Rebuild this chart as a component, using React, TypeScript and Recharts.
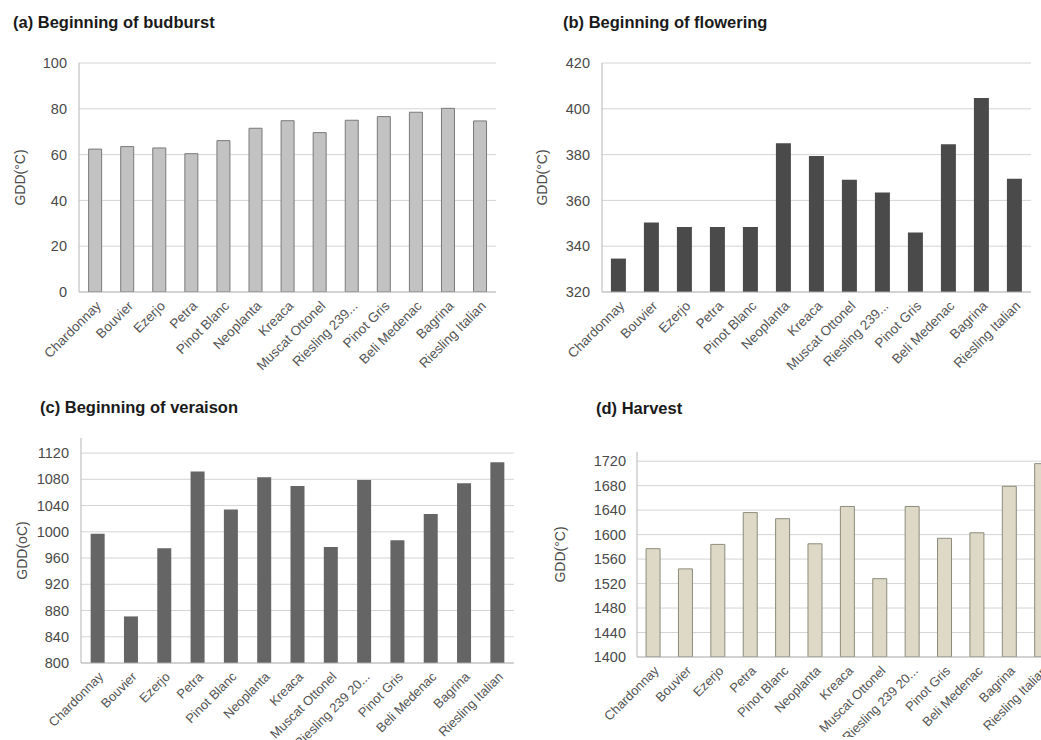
import React from "react";
import { BarChart, Bar, XAxis, YAxis, CartesianGrid } from "recharts";

const cultivarsShort = [
  "Chardonnay", "Bouvier", "Ezerjo", "Petra", "Pinot Blanc", "Neoplanta", "Kreaca",
  "Muscat Ottonel", "Riesling 239...", "Pinot Gris", "Beli Medenac", "Bagrina", "Riesling Italian",
];
const cultivarsLong = [
  "Chardonnay", "Bouvier", "Ezerjo", "Petra", "Pinot Blanc", "Neoplanta", "Kreaca",
  "Muscat Ottonel", "Riesling 239 20...", "Pinot Gris", "Beli Medenac", "Bagrina", "Riesling Italian",
];

const budburst = [62.4, 63.5, 62.9, 60.4, 66.1, 71.5, 74.8, 69.6, 75, 76.6, 78.5, 80.2, 74.7];
const flowering = [334.6, 350.4, 348.4, 348.4, 348.4, 385, 379.4, 369, 363.5, 346, 384.5, 404.7, 369.5];
const veraison = [997, 871, 975, 1092, 1034, 1083, 1070, 977, 1079, 987, 1027, 1074, 1106];
const harvest = [1577, 1544, 1584, 1636, 1626, 1585, 1646, 1528, 1646, 1594, 1603, 1679, 1716];

const ticksA = [0, 20, 40, 60, 80, 100];
const ticksB = [320, 340, 360, 380, 400, 420];
const ticksC = [800, 840, 880, 920, 960, 1000, 1040, 1080, 1120];
const ticksD = [1400, 1440, 1480, 1520, 1560, 1600, 1640, 1680, 1720];

const FONT = "'Liberation Sans', Arial, sans-serif";

const toRows = (names: string[], vals: number[]) =>
  names.map((name, i) => ({ name, value: vals[i] }));

type PanelProps = {
  title: string;
  titleLeft: number;
  titleTop: number;
  left: number;
  top: number;
  width: number;
  height: number;
  margin: { top: number; right: number; bottom: number; left: number };
  yWidth: number;
  yTickMargin: number;
  labelOffset: number;
  yLabel: string;
  domain: [number, number];
  ticks: number[];
  data: { name: string; value: number }[];
  fill: string;
  stroke?: string;
  gap: string;
  xFont: number;
};

function Panel(p: PanelProps) {
  return (
    <>
      <div
        style={{
          position: "absolute", left: p.titleLeft, top: p.titleTop,
          fontFamily: FONT, fontWeight: "bold", fontSize: 16.5, color: "#1a1a1a",
          whiteSpace: "nowrap", lineHeight: "19px",
        }}
      >
        {p.title}
      </div>
      <div style={{ position: "absolute", left: p.left, top: p.top }}>
        <BarChart width={p.width} height={p.height} data={p.data} margin={p.margin} barCategoryGap={p.gap}>
          <CartesianGrid vertical={false} stroke="#d4d4d4" horizontalValues={p.ticks.slice(1)} />
          <XAxis
            dataKey="name"
            interval={0}
            angle={-45}
            textAnchor="end"
            height={80}
            tickLine={false}
            axisLine={{ stroke: "#a6a6a6" }}
            tick={{ fill: "#555", fontSize: p.xFont, fontFamily: FONT }}
          />
          <YAxis
            domain={p.domain}
            ticks={p.ticks}
            width={p.yWidth}
            allowDataOverflow
            tickLine={false}
            tickMargin={p.yTickMargin}
            axisLine={{ stroke: "#b5b5b5" }}
            tick={{ fill: "#4a4a4a", fontSize: 14.5, fontFamily: FONT }}
            label={{
              value: p.yLabel, angle: -90, position: "insideLeft", offset: p.labelOffset,
              style: { textAnchor: "middle", fill: "#4a4a4a", fontSize: 14, fontFamily: FONT },
            }}
          />
          <Bar
            dataKey="value"
            fill={p.fill}
            stroke={p.stroke}
            strokeWidth={p.stroke ? 1 : 0}
            isAnimationActive={false}
          />
        </BarChart>
      </div>
    </>
  );
}

export default function App() {
  return (
    <div
      style={{
        position: "absolute", left: 0, top: 0, width: 1041, height: 740,
        overflow: "hidden", background: "#fff",
      }}
    >
      <Panel
        title="(a) Beginning of budburst" titleLeft={13} titleTop={13}
        left={0} top={0} width={506} height={372}
        margin={{ top: 63, right: 10, bottom: 0, left: 8 }} yWidth={71} yTickMargin={6} labelOffset={12}
        yLabel="GDD(°C)" domain={[0, 100]} ticks={ticksA}
        data={toRows(cultivarsShort, budburst)} fill="#c2c2c2" stroke="#7a7a7a" gap="30%" xFont={13.5}
      />
      <Panel
        title="(b) Beginning of flowering" titleLeft={563} titleTop={13}
        left={520} top={0} width={521} height={372}
        margin={{ top: 63, right: 10, bottom: 0, left: 10 }} yWidth={72} yTickMargin={6} labelOffset={12}
        yLabel="GDD(°C)" domain={[320, 420]} ticks={ticksB}
        data={toRows(cultivarsShort, flowering)} fill="#4a4a4a" gap="27%" xFont={13.5}
      />
      <Panel
        title="(c) Beginning of veraison" titleLeft={40} titleTop={398}
        left={0} top={370} width={520} height={373}
        margin={{ top: 68, right: 6, bottom: 0, left: 8 }} yWidth={73} yTickMargin={6} labelOffset={14}
        yLabel="GDD(oC)" domain={[800, 1143]} ticks={ticksC}
        data={toRows(cultivarsLong, veraison)} fill="#656565" gap="29%" xFont={13}
      />
      <Panel
        title="(d) Harvest" titleLeft={596} titleTop={399}
        left={520} top={370} width={543} height={367}
        margin={{ top: 82, right: 5, bottom: 0, left: 10 }} yWidth={107} yTickMargin={5} labelOffset={30}
        yLabel="GDD(°C)" domain={[1400, 1735]} ticks={ticksD}
        data={toRows(cultivarsLong, harvest)} fill="#ddd9c6" stroke="#8c8c7c" gap="28%" xFont={13}
      />
    </div>
  );
}
